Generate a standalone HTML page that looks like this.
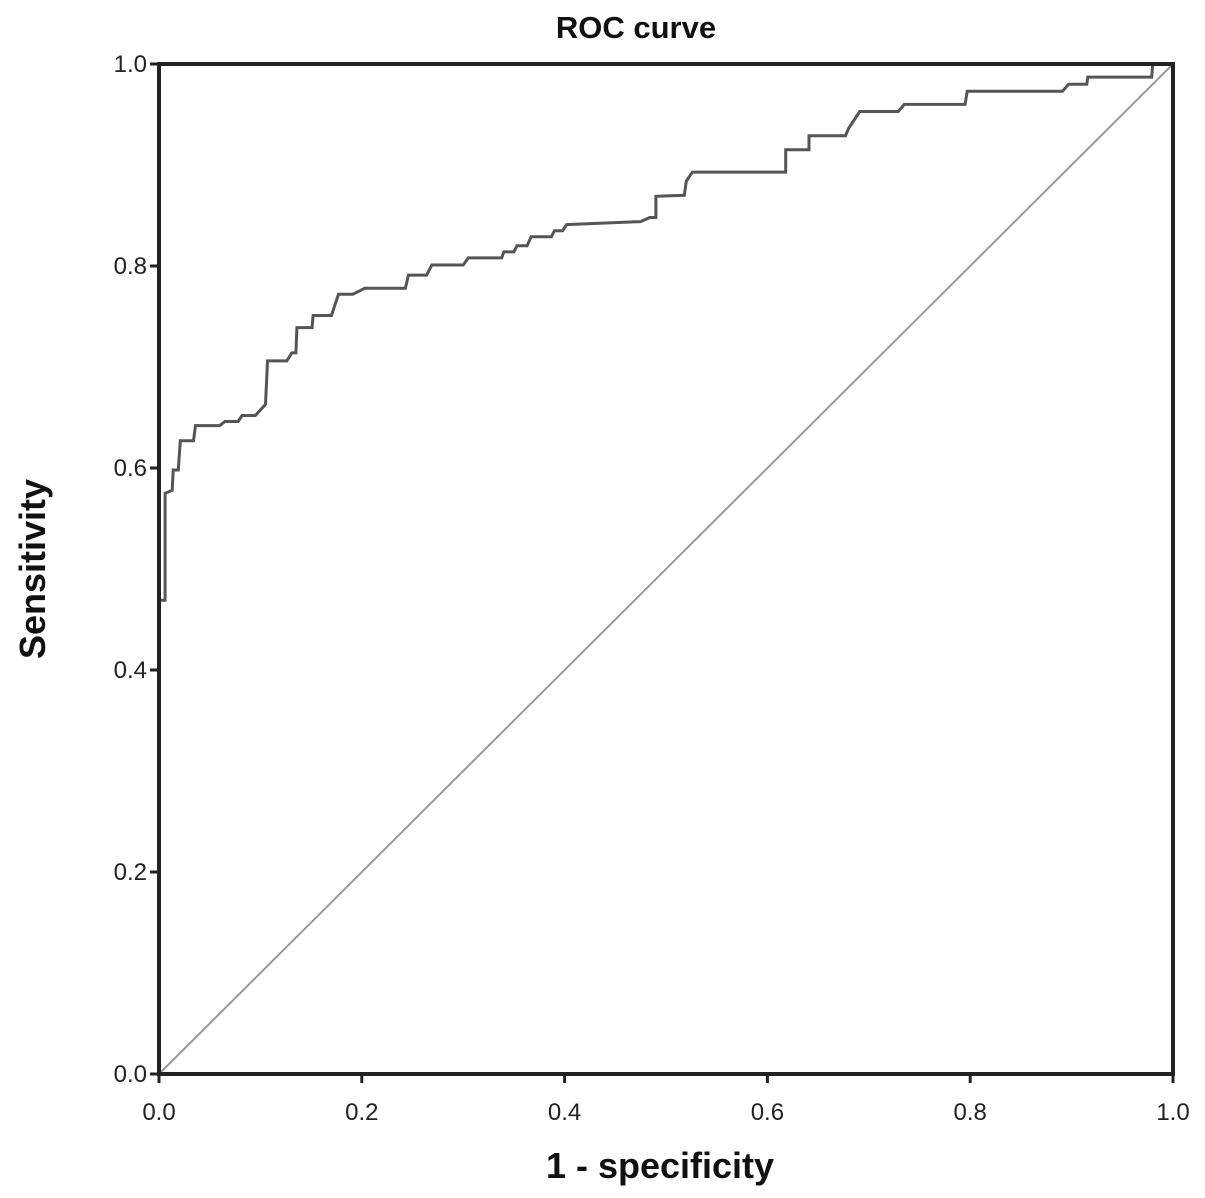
<!DOCTYPE html>
<html><head><meta charset="utf-8"><style>
body{margin:0;background:#fff;}
svg{display:block;font-family:"Liberation Sans",Arial,sans-serif;}
</style></head><body>
<svg id="chart" width="1205" height="1198" viewBox="0 0 1205 1198" xmlns="http://www.w3.org/2000/svg">
<text x="636" y="38" text-anchor="middle" font-size="31" font-weight="bold" fill="#111">ROC curve</text>
<text x="660" y="1178" text-anchor="middle" font-size="36" font-weight="bold" fill="#111">1 - specificity</text>
<text transform="translate(45,569) rotate(-90)" text-anchor="middle" font-size="36" font-weight="bold" fill="#111">Sensitivity</text>
<g id="ticks"></g>
<line id="diag" stroke="#999" stroke-width="2"/>
<path id="roc" fill="none" stroke="#555" stroke-width="3"/>
<rect x="159" y="64" width="1014" height="1010" fill="none" stroke="#222" stroke-width="4"/>
</svg>
<script>
const fpr = [0,0,0.006,0.006,0.013,0.014,0.019,0.021,0.034,0.036,0.060,0.065,0.078,0.082,0.095,0.105,0.107,0.126,0.131,0.135,0.136,0.151,0.152,0.170,0.177,0.191,0.203,0.243,0.246,0.264,0.269,0.300,0.305,0.338,0.340,0.350,0.353,0.363,0.367,0.387,0.390,0.398,0.402,0.475,0.484,0.490,0.490,0.518,0.520,0.526,0.618,0.618,0.641,0.641,0.677,0.680,0.691,0.729,0.735,0.795,0.797,0.891,0.897,0.915,0.916,0.979,0.980,1];
const tpr = [0,0.469,0.469,0.575,0.578,0.598,0.598,0.627,0.627,0.642,0.642,0.646,0.646,0.652,0.652,0.663,0.706,0.706,0.714,0.714,0.739,0.739,0.751,0.751,0.772,0.772,0.778,0.778,0.791,0.791,0.801,0.801,0.808,0.808,0.814,0.814,0.820,0.820,0.829,0.829,0.835,0.835,0.841,0.844,0.848,0.848,0.869,0.870,0.884,0.893,0.893,0.915,0.915,0.929,0.929,0.936,0.953,0.953,0.960,0.960,0.973,0.973,0.980,0.980,0.987,0.987,1.0,1.0];
const tickVals = [0,0.2,0.4,0.6,0.8,1.0];
const tickLabels = ["0.0","0.2","0.4","0.6","0.8","1.0"];
const X0=159,X1=1173,Y0=1074,Y1=64;
const sx=v=>X0+v*(X1-X0), sy=v=>Y0-v*(Y0-Y1);
const NS="http://www.w3.org/2000/svg";
let d="";
fpr.forEach((v,i)=>{d+=(i?"L":"M")+sx(v).toFixed(1)+","+sy(tpr[i]).toFixed(1);});
document.getElementById("roc").setAttribute("d",d);
const dg=document.getElementById("diag");
dg.setAttribute("x1",sx(0));dg.setAttribute("y1",sy(0));dg.setAttribute("x2",sx(1));dg.setAttribute("y2",sy(1));
const g=document.getElementById("ticks");
tickVals.forEach((v,i)=>{
  let l=document.createElementNS(NS,"line");
  
  
  l.setAttribute("x1",sx(v));l.setAttribute("x2",sx(v));l.setAttribute("y1",Y0);l.setAttribute("y2",Y0+9);l.setAttribute("stroke","#222");l.setAttribute("stroke-width","3");g.appendChild(l);
  let t=document.createElementNS(NS,"text");
  
  
  t.setAttribute("x",sx(v));t.setAttribute("y",Y0+46);t.setAttribute("text-anchor","middle");t.setAttribute("font-size","24");t.setAttribute("fill","#222");t.textContent=tickLabels[i];g.appendChild(t);
  let l2=document.createElementNS(NS,"line");
  
  
  l2.setAttribute("x1",X0-9);l2.setAttribute("x2",X0);l2.setAttribute("y1",sy(v));l2.setAttribute("y2",sy(v));l2.setAttribute("stroke","#222");l2.setAttribute("stroke-width","3");g.appendChild(l2);
  let t2=document.createElementNS(NS,"text");
  
  
  t2.setAttribute("x",X0-12);t2.setAttribute("y",sy(v)+8);t2.setAttribute("text-anchor","end");t2.setAttribute("font-size","24");t2.setAttribute("fill","#222");t2.textContent=tickLabels[i];g.appendChild(t2);
});
</script>
</body></html>
